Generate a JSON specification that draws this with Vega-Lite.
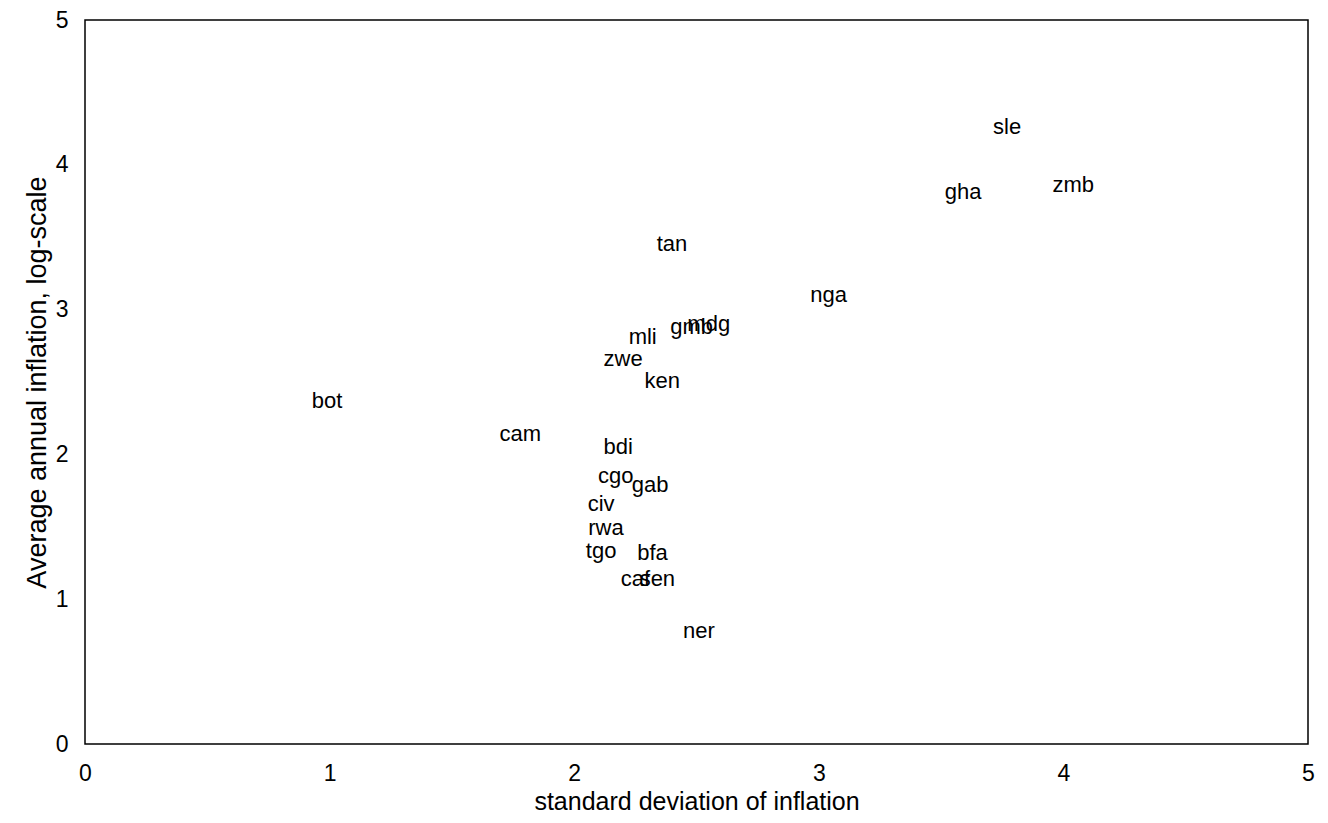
{
  "$schema": "https://vega.github.io/schema/vega-lite/v6.json",
  "width": 1223,
  "height": 724,
  "autosize": "none",
  "padding": {"left": 85, "top": 20, "right": 20, "bottom": 79},
  "background": "white",
  "config": {
    "view": {"stroke": "black", "strokeWidth": 1.5},
    "font": "Liberation Sans"
  },
  "data": {
    "values": [
      {"code": "sle", "sd": 3.77, "infl": 4.26},
      {"code": "zmb", "sd": 4.04, "infl": 3.86},
      {"code": "gha", "sd": 3.59, "infl": 3.81},
      {"code": "tan", "sd": 2.40, "infl": 3.45},
      {"code": "nga", "sd": 3.04, "infl": 3.10},
      {"code": "gmb", "sd": 2.48, "infl": 2.88},
      {"code": "mdg", "sd": 2.55, "infl": 2.90},
      {"code": "mli", "sd": 2.28, "infl": 2.81},
      {"code": "zwe", "sd": 2.20, "infl": 2.66},
      {"code": "ken", "sd": 2.36, "infl": 2.51},
      {"code": "bot", "sd": 0.99, "infl": 2.37},
      {"code": "cam", "sd": 1.78, "infl": 2.14},
      {"code": "bdi", "sd": 2.18, "infl": 2.05},
      {"code": "cgo", "sd": 2.17, "infl": 1.85},
      {"code": "gab", "sd": 2.31, "infl": 1.79},
      {"code": "civ", "sd": 2.11, "infl": 1.66},
      {"code": "rwa", "sd": 2.13, "infl": 1.49},
      {"code": "tgo", "sd": 2.11, "infl": 1.33},
      {"code": "bfa", "sd": 2.32, "infl": 1.32},
      {"code": "caf", "sd": 2.25, "infl": 1.14},
      {"code": "sen", "sd": 2.34, "infl": 1.14},
      {"code": "ner", "sd": 2.51, "infl": 0.78}
    ]
  },
  "mark": {"type": "text", "fontSize": 22, "font": "Liberation Sans", "color": "black", "align": "center", "baseline": "middle"},
  "encoding": {
    "x": {
      "field": "sd", "type": "quantitative",
      "scale": {"domain": [0, 5], "nice": false, "zero": false},
      "axis": {
        "title": "standard deviation of inflation",
        "values": [0, 1, 2, 3, 4, 5],
        "grid": false, "ticks": false, "domain": false,
        "labelPadding": 18, "labelFontSize": 23, "labelColor": "black",
        "labelFont": "Liberation Sans", "labelFlush": false,
        "titleFontSize": 25, "titleFontWeight": "normal", "titleColor": "black",
        "titleFont": "Liberation Sans", "titlePadding": 4
      }
    },
    "y": {
      "field": "infl", "type": "quantitative",
      "scale": {"domain": [0, 5], "nice": false, "zero": false},
      "axis": {
        "title": "Average annual inflation, log-scale",
        "values": [0, 1, 2, 3, 4, 5],
        "grid": false, "ticks": false, "domain": false,
        "labelPadding": 17, "labelFontSize": 23, "labelColor": "black",
        "labelFont": "Liberation Sans", "labelFlush": false,
        "titleFontSize": 27, "titleFontWeight": "normal", "titleColor": "black",
        "titleFont": "Liberation Sans", "titlePadding": 4
      }
    },
    "text": {"field": "code", "type": "nominal"}
  }
}
